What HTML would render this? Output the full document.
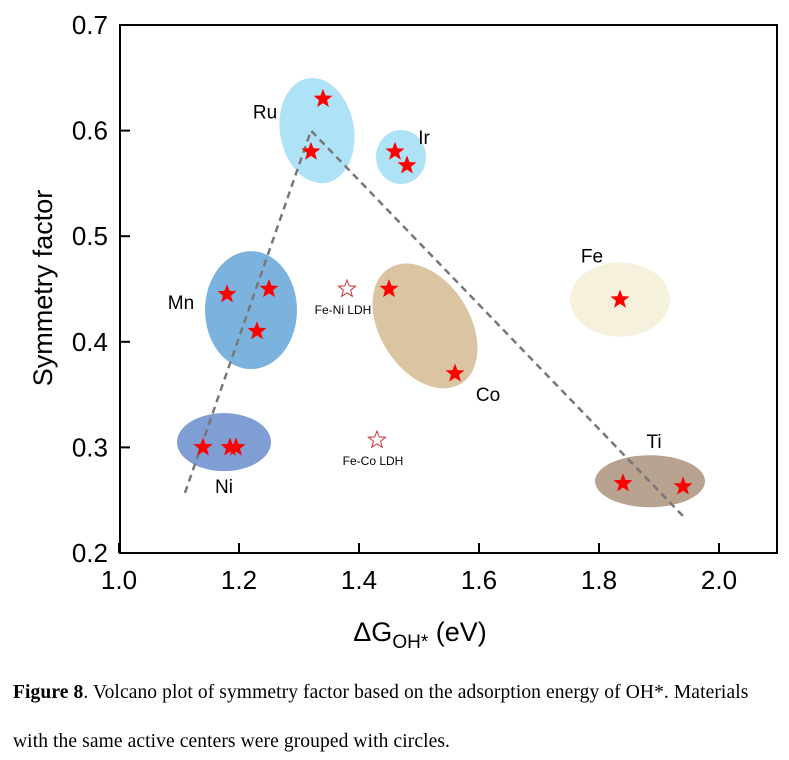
<!DOCTYPE html>
<html><head><meta charset="utf-8"><style>
body{margin:0;background:#fff;width:789px;height:760px;overflow:hidden}
svg text{font-family:"Liberation Sans",Arial,sans-serif}
.cap{position:absolute;left:13px;font-family:"Liberation Serif",serif;font-size:19.5px;color:#000;letter-spacing:0.1px;white-space:nowrap}
</style></head><body>
<svg id="chart" width="789" height="660" style="position:absolute;left:0;top:0"></svg>
<div class="cap" style="top:682px"><b>Figure 8</b>. Volcano plot of symmetry factor based on the adsorption energy of OH*. Materials</div>
<div class="cap" style="top:731px">with the same active centers were grouped with circles.</div>
<script>
const xTicks=[1.0,1.2,1.4,1.6,1.8,2.0];
const yTicks=[0.2,0.3,0.4,0.5,0.6,0.7];
const groupNames=["Ru","Ir","Mn","Ni","Co","Fe","Ti"];
const groupX=[1.33,1.47,1.22,1.175,1.51,1.835,1.885];
const groupY=[0.60,0.575,0.43,0.305,0.415,0.44,0.268];
const starX=[1.34,1.32,1.46,1.48,1.18,1.25,1.23,1.14,1.185,1.195,1.45,1.56,1.835,1.84,1.94];
const starY=[0.63,0.58,0.58,0.567,0.445,0.45,0.41,0.30,0.30,0.30,0.45,0.37,0.44,0.266,0.263];
const ldhNames=["Fe-Ni LDH","Fe-Co LDH"];
const ldhX=[1.38,1.43];
const ldhY=[0.45,0.307];
const lineX=[1.11,1.32,1.94];
const lineY=[0.257,0.60,0.235];
const X=v=>119+(v-1.0)*600;
const Y=v=>553-(v-0.2)*1056;
const svg=document.getElementById('chart');
const NS='http://www.w3.org/2000/svg';
function mk(t,a,p){const e=document.createElementNS(NS,t);for(const k in a)e.setAttribute(k,a[k]);(p||svg).appendChild(e);return e;}
const eStyle={Ru:[37,53,-10,'#aee3f7'],Ir:[25,27,0,'#aee3f7'],Mn:[46,59,0,'#7cb3de'],Ni:[47,29,0,'#7f9ed3'],Co:[45,68,-32,'#dac4a2'],Fe:[50,37,0,'#f5f1dc'],Ti:[55,26,0,'#b8a290']};
const lblOff={Ru:[-52,-19],Ir:[23,-20],Mn:[-70,-8],Ni:[0,44],Co:[0,0],Fe:[-28,-44],Ti:[4,-40]};
groupNames.forEach((n,i)=>{const s=eStyle[n];const cx=X(groupX[i]),cy=Y(groupY[i]);
 const e=mk('ellipse',{cx:cx,cy:cy,rx:s[0],ry:s[1],fill:s[3],transform:`rotate(${s[2]} ${cx} ${cy})`});
 
 
});
const pl=mk('polyline',{points:lineX.map((v,i)=>X(v)+','+Y(lineY[i])).join(' '),fill:'none',stroke:'#777',"stroke-width":2.5,"stroke-dasharray":'7,5'});


function starPts(cx,cy,R){const r=R*0.42;let p=[];for(let k=0;k<10;k++){const a=-Math.PI/2+k*Math.PI/5;const rr=k%2?r:R;p.push((cx+rr*Math.cos(a)).toFixed(1)+','+(cy+rr*Math.sin(a)).toFixed(1));}return p.join(' ');}
starX.forEach((v,i)=>{const s=mk('polygon',{points:starPts(X(v),Y(starY[i]),10),fill:'#f00'});
 
 });
ldhX.forEach((v,i)=>{const s=mk('polygon',{points:starPts(X(v),Y(ldhY[i]),9),fill:'#fff',stroke:'#c33',"stroke-width":1});
 
 
 const t=mk('text',{x:X(v)-4,y:Y(ldhY[i])+25,"font-size":12,"text-anchor":'middle'});t.textContent=ldhNames[i];
 
 });
groupNames.forEach((n,i)=>{const o=lblOff[n];const t=mk('text',{x:X(groupX[i])+o[0],y:Y(groupY[i])+o[1]+7,"font-size":19,"text-anchor":'middle'});
 if(n==='Co'){t.setAttribute('x',488);t.setAttribute('y',401);}
 t.textContent=n;
 
 });
const fr=mk('rect',{x:120,y:25,width:657,height:528,fill:'none',stroke:'#000',"stroke-width":2});


xTicks.forEach(v=>{mk('line',{x1:X(v),x2:X(v),y1:553,y2:543,stroke:'#000',"stroke-width":2});
 const t=mk('text',{x:X(v),y:589,"font-size":26,"text-anchor":'middle'});t.textContent=v.toFixed(1);
 
 });
yTicks.forEach(v=>{mk('line',{x1:120,x2:130,y1:Y(v),y2:Y(v),stroke:'#000',"stroke-width":2});
 const t=mk('text',{x:108,y:Y(v)+9,"font-size":26,"text-anchor":'end'});t.textContent=v.toFixed(1);
 
 });
const yt=mk('text',{x:0,y:0,"font-size":27,"text-anchor":'middle',transform:'translate(52,288) rotate(-90)'});yt.textContent='Symmetry factor';


const xt=mk('text',{x:420,y:641,"font-size":27,"text-anchor":'middle'});
xt.innerHTML='ΔG<tspan font-size="19" dy="7">OH*</tspan><tspan dy="-7"> (eV)</tspan>';


</script>
</body></html>
